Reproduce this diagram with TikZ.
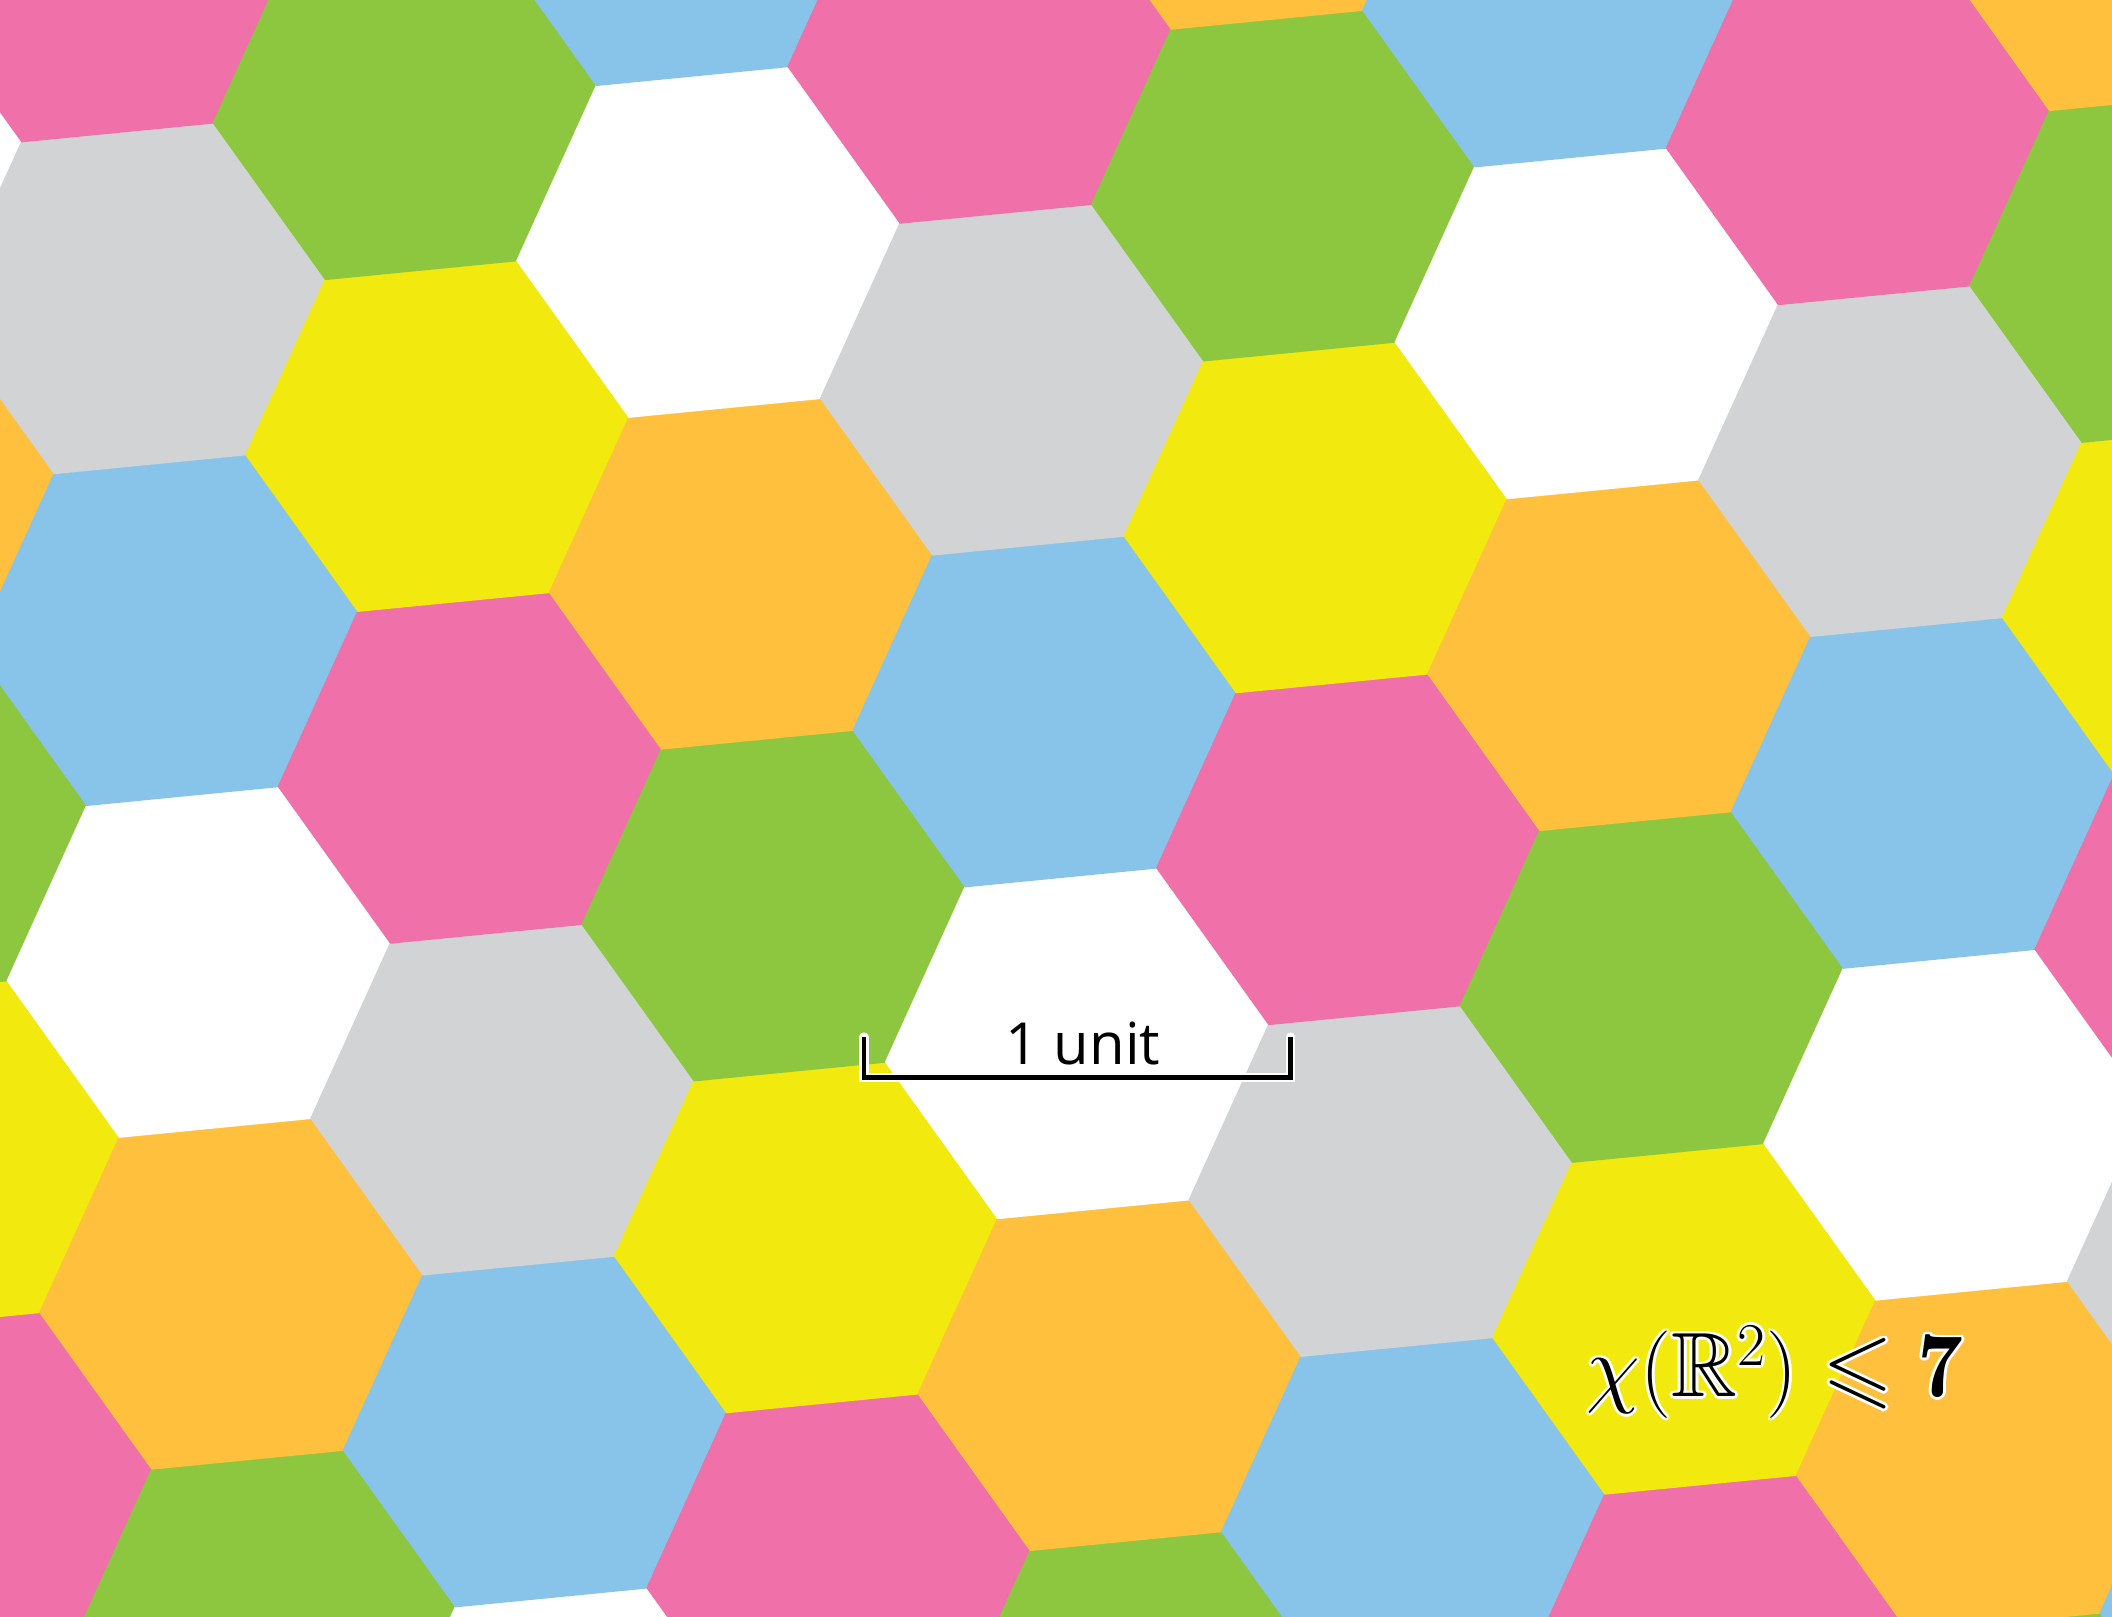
\documentclass[tikz,border=0pt]{standalone}
\usepackage{amsmath,amssymb}
\usepackage{xcolor}
\usepackage{fontspec}
\usepackage{tikz}
\usetikzlibrary{calc}
\newfontfamily\unitfont{Open Sans}
% seven tile colours, numbered as in the colouring rule
\definecolor{hex0}{RGB}{255,255,255}
\definecolor{hex1}{RGB}{240,112,169}
\definecolor{hex2}{RGB}{255,192,62}
\definecolor{hex3}{RGB}{209,211,212}
\definecolor{hex4}{RGB}{141,199,63}
\definecolor{hex5}{RGB}{136,196,234}
\definecolor{hex6}{RGB}{242,234,14}
\newcommand{\boundtext}{$\chi(\mathbb{R}^2)\leqslant\mathbf{7}$}
% white copy shifted by (#1,#2), set with no width
\newcommand{\halocopy}[3]{\rlap{\hspace*{#1}\raisebox{#2}{\color{white}#3}}}
\newcommand{\halo}[1]{\leavevmode
  \halocopy{0.8pt}{0pt}{#1}\halocopy{-0.8pt}{0pt}{#1}%
  \halocopy{0pt}{0.8pt}{#1}\halocopy{0pt}{-0.8pt}{#1}%
  \halocopy{0.57pt}{0.57pt}{#1}\halocopy{-0.57pt}{0.57pt}{#1}%
  \halocopy{0.57pt}{-0.57pt}{#1}\halocopy{-0.57pt}{-0.57pt}{#1}%
  #1}

\begin{document}
\begin{tikzpicture}
\useasboundingbox (0,0) rectangle (21.12,16.17);
\clip (0,0) rectangle (21.12,16.17);
\def\rad{1.925}
\def\tilt{5.6}
\coordinate (origin) at (10.773,5.738);
% tiling: colour of tile (a,b) is a+5b mod 7
\foreach \a in {-7,...,7}{
  \foreach \b in {-7,...,7}{
    \pgfmathtruncatemacro\hue{mod(\a+5*\b+70,7)}
    \filldraw[fill=hex\hue,draw=hex\hue,line width=0.4pt,shift={(origin)},
      shift={(\tilt+30:{\a*sqrt(3)*\rad})},shift={(\tilt+90:{\b*sqrt(3)*\rad})}]
      (\tilt:\rad) -- (\tilt+60:\rad) -- (\tilt+120:\rad) -- (\tilt+180:\rad)
      -- (\tilt+240:\rad) -- (\tilt+300:\rad) -- cycle;
  }
}
% scale bar
\coordinate (tickL) at (8.64,5.80);
\coordinate (footL) at (8.64,5.392);
\coordinate (footR) at (12.905,5.392);
\coordinate (tickR) at (12.905,5.80);
\draw[white,line width=2.6pt,line cap=round] (tickL) -- (footL) -- (footR) -- (tickR);
\draw[black,line width=1.4pt] (tickL) -- (footL) -- (footR) -- (tickR);
\node[anchor=base,inner sep=0pt] (unitlabel) at (10.83,5.52) {\fontsize{16.5}{20}\selectfont\unitfont 1 unit};
\node[anchor=base,inner sep=0pt] (bound) at (17.75,2.20) {\fontsize{26}{30}\selectfont\halo{\boundtext}};
\end{tikzpicture}
\end{document}
